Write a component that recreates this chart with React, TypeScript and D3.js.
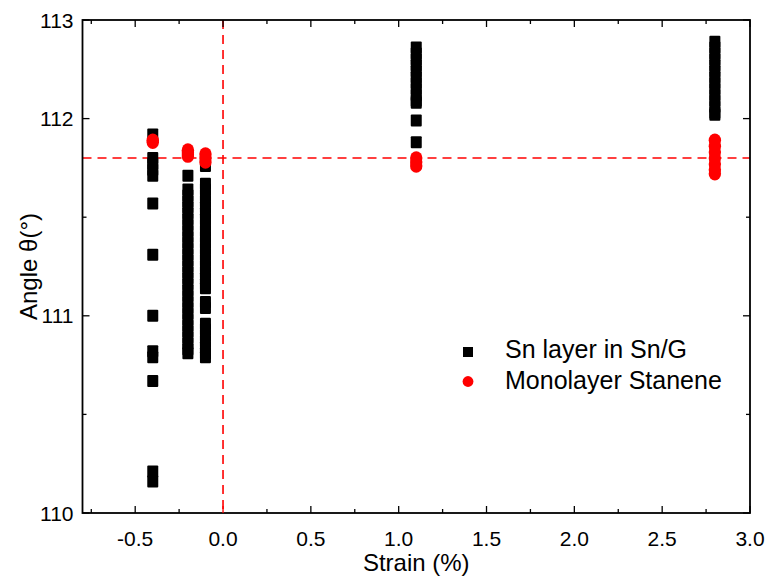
import React from "react";
import * as d3 from "d3";

const W = 766;
const H = 576;

// Strain positions (%)
const strainSnG = [-0.4, -0.2, -0.1, 1.1, 2.8];

// Angle values of the Sn layer in Sn/G at each strain
const snNeg04 = [111.92, 111.80, 111.77, 111.74, 111.71, 111.57, 111.31, 111.00, 110.82, 110.79, 110.67, 110.21, 110.16];
const snNeg02 = [111.71, 111.64, 111.61, 111.58, 111.55, 111.52, 111.49, 111.46, 111.43, 111.40, 111.37, 111.34, 111.31, 111.28, 111.25, 111.22, 111.19, 111.16, 111.13, 111.10, 111.07, 111.04, 111.01, 110.98, 110.95, 110.92, 110.89, 110.86, 110.83, 110.81];
const snNeg01 = [111.76, 111.67, 111.64, 111.61, 111.58, 111.55, 111.52, 111.49, 111.46, 111.43, 111.40, 111.37, 111.34, 111.31, 111.28, 111.25, 111.22, 111.19, 111.16, 111.14, 111.07, 111.04, 110.96, 110.93, 110.90, 110.87, 110.84, 110.81, 110.79];
const snPos11 = [112.36, 112.33, 112.30, 112.27, 112.24, 112.21, 112.18, 112.15, 112.12, 112.09, 112.08, 111.99, 111.88];
const snPos28 = [112.39, 112.36, 112.33, 112.30, 112.27, 112.24, 112.21, 112.18, 112.15, 112.12, 112.09, 112.06, 112.03, 112.02];

// Monolayer stanene angles at each strain
const monoNeg04 = [111.89, 111.88];
const monoNeg02 = [111.84, 111.83, 111.82, 111.81];
const monoNeg01 = [111.82, 111.80, 111.78];
const monoPos11 = [111.80, 111.78, 111.76];
const monoPos28 = [111.89, 111.86, 111.83, 111.80, 111.77, 111.74, 111.72];

const snGroups = [snNeg04, snNeg02, snNeg01, snPos11, snPos28];
const monoGroups = [monoNeg04, monoNeg02, monoNeg01, monoPos11, monoPos28];

// Reference lines
const refStrain = 0;
const refAngle = 111.8;

// Ticks
const xMajor = [-0.5, 0, 0.5, 1.0, 1.5, 2.0, 2.5, 3.0];
const xMajorLabels = ["-0.5", "0.0", "0.5", "1.0", "1.5", "2.0", "2.5", "3.0"];
const xMinor = [-0.75, -0.25, 0.25, 0.75, 1.25, 1.75, 2.25, 2.75];
const yMajor = [110, 111, 112, 112.5];
const yMajorLabels = ["110", "111", "112", "113"];
const yMinor = [110.5, 111.5];

const seriesNames = ["Sn layer in Sn/G", "Monolayer Stanene"];

export default function App() {
  const left = 82.5, right = 750, top = 20, bottom = 513;
  const x = d3.scaleLinear().domain([-0.8, 3.0]).range([left, right]);
  const y = d3.scaleLinear().domain([110, 112.5]).range([bottom, top]);
  const font = "'Liberation Sans', Arial, Helvetica, sans-serif";
  const sq = 11;
  const majorLen = 7;
  const minorLen = 4;

  const snPts: { s: number; a: number }[] = [];
  snGroups.forEach((g, i) => g.forEach((a) => snPts.push({ s: strainSnG[i], a })));
  const monoPts: { s: number; a: number }[] = [];
  monoGroups.forEach((g, i) => g.forEach((a) => monoPts.push({ s: strainSnG[i], a })));

  return (
    <svg width={W} height={H} style={{ position: "absolute", left: 0, top: 0, background: "#fff" }} fontFamily={font}>
      <rect x={0} y={0} width={W} height={H} fill="#fff" />
      {/* reference dashed lines */}
      <line x1={x(refStrain)} x2={x(refStrain)} y1={top} y2={bottom} stroke="#ff0000" strokeWidth={1.6} strokeDasharray="9,6" />
      <line x1={left} x2={right} y1={y(refAngle)} y2={y(refAngle)} stroke="#ff0000" strokeWidth={1.6} strokeDasharray="9,6" />

      {/* black squares */}
      {snPts.map((p, i) => (
        <rect key={"s" + i} x={x(p.s) - sq / 2} y={y(p.a) - sq / 2 - 0.5} width={sq} height={sq + 1} rx={1} fill="#000" />
      ))}
      {/* red circles */}
      {monoPts.map((p, i) => (
        <ellipse key={"m" + i} cx={x(p.s)} cy={y(p.a)} rx={6.2} ry={6.8} fill="#ff0000" />
      ))}

      {/* frame */}
      <rect x={left} y={top} width={right - left} height={bottom - top} fill="none" stroke="#000" strokeWidth={1.8} />

      {/* x ticks */}
      {xMajor.map((v, i) => (
        <g key={"xm" + i}>
          <line x1={x(v)} x2={x(v)} y1={bottom} y2={bottom - majorLen} stroke={v === 0 ? "#ff0000" : "#000"} strokeWidth={1.3} />
          <line x1={x(v)} x2={x(v)} y1={top} y2={top + majorLen} stroke="#000" strokeWidth={1.3} />
          <text x={x(v)} y={bottom + 33} textAnchor="middle" fontSize={21} fill="#000">{xMajorLabels[i]}</text>
        </g>
      ))}
      {xMinor.map((v, i) => (
        <g key={"xn" + i}>
          <line x1={x(v)} x2={x(v)} y1={bottom} y2={bottom - minorLen} stroke="#000" strokeWidth={1.3} />
          <line x1={x(v)} x2={x(v)} y1={top} y2={top + minorLen} stroke="#000" strokeWidth={1.3} />
        </g>
      ))}

      {/* y ticks */}
      {yMajor.map((v, i) => (
        <g key={"ym" + i}>
          <line x1={left} x2={left + majorLen} y1={y(v)} y2={y(v)} stroke="#000" strokeWidth={1.3} />
          <line x1={right} x2={right - majorLen} y1={y(v)} y2={y(v)} stroke="#000" strokeWidth={1.3} />
          <text x={left - 9} y={y(v) + 7.5} textAnchor="end" fontSize={21} fill="#000">{yMajorLabels[i]}</text>
        </g>
      ))}
      {yMinor.map((v, i) => (
        <g key={"yn" + i}>
          <line x1={left} x2={left + minorLen} y1={y(v)} y2={y(v)} stroke="#000" strokeWidth={1.3} />
          <line x1={right} x2={right - minorLen} y1={y(v)} y2={y(v)} stroke="#000" strokeWidth={1.3} />
        </g>
      ))}

      {/* axis titles */}
      <text x={(left + right) / 2} y={571} textAnchor="middle" fontSize={24} fill="#000">Strain (%)</text>
      <text transform={`translate(37,${(top + bottom) / 2}) rotate(-90)`} textAnchor="middle" fontSize={24} fill="#000">Angle θ(°)</text>

      {/* legend */}
      <rect x={463} y={347} width={10} height={10} fill="#000" />
      <text x={505} y={358} fontSize={25} fill="#000">{seriesNames[0]}</text>
      <circle cx={468} cy={381.5} r={5.4} fill="#ff0000" />
      <text x={505} y={389} fontSize={25} fill="#000">{seriesNames[1]}</text>
    </svg>
  );
}
